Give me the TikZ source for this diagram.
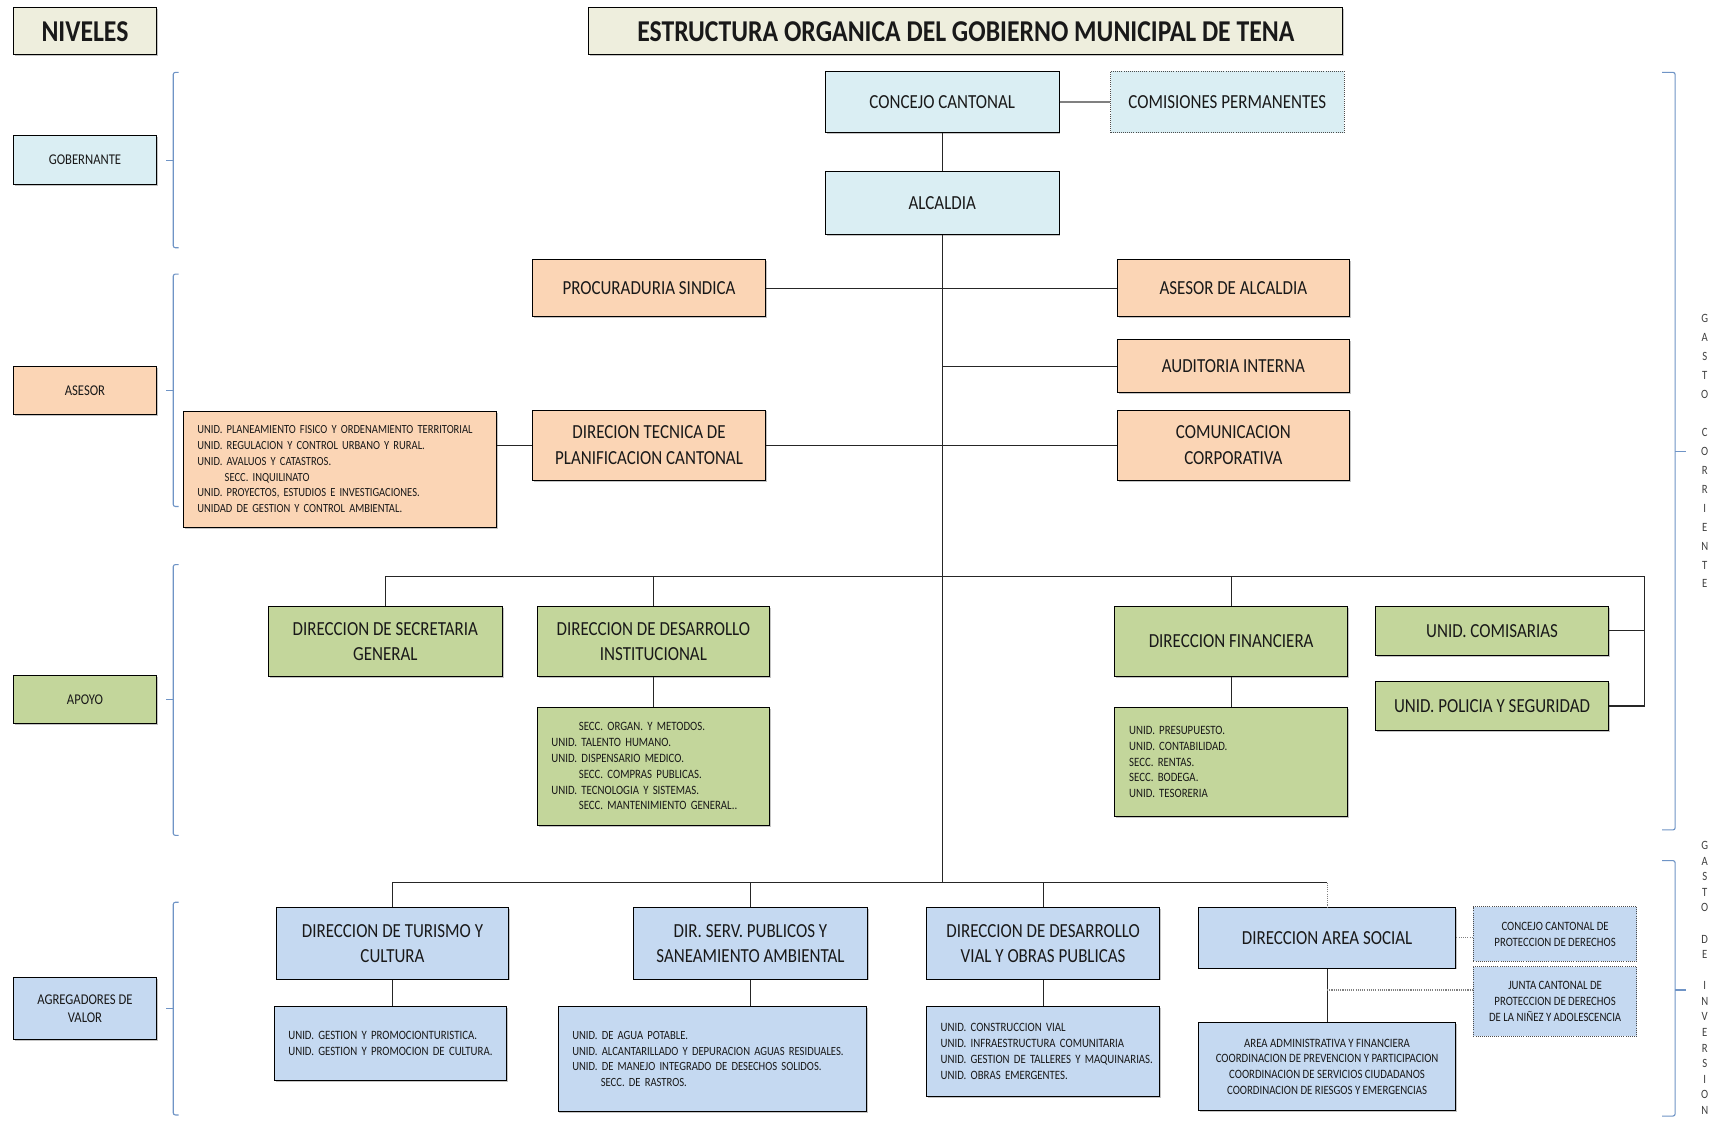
\documentclass[tikz,border=0pt]{standalone}
\usepackage{fontspec}
\setmainfont{Carlito}[FakeStretch=0.85]
\usetikzlibrary{shadows}
\definecolor{lblue}{HTML}{DAEEF3}
\definecolor{mblue}{HTML}{C5D9F1}
\definecolor{orng}{HTML}{FBD5B5}
\definecolor{grn}{HTML}{C3D69B}
\definecolor{beige}{HTML}{EEEEDD}
\definecolor{bracecol}{HTML}{6F94C6}
\newcommand\fs[2]{\fontsize{#1}{#2}\selectfont}
\newcommand\sline[1]{\mbox{#1}}
\newcommand\ind{\hspace*{25pt}}
\begin{document}
\begin{tikzpicture}[x=1pt,y=-1pt,
  every node/.style={inner sep=0pt},
  box/.style={draw=black, line width=0.9pt, align=center, text=black!90, font=\fs{18.2}{23},
    drop shadow={shadow xshift=1.3pt, shadow yshift=-1.3pt, opacity=0.45}},
  lvl/.style={box, font=\fs{13.6}{16}},
  sub/.style={box, font=\fs{11.6}{14.4}, align=left, inner xsep=13pt,
    execute at begin node={\frenchspacing\hyphenpenalty=10000\exhyphenpenalty=10000}},
  dotbox/.style={draw=black!70, densely dotted, line width=0.9pt, align=center, text=black!90},
  link/.style={draw=black!85, line width=1pt},
  brc/.style={draw=bracecol, line width=1pt, rounded corners=2pt},
  vtext/.style={text=black!75, align=center}
]
\useasboundingbox (0,0) rectangle (1568,1023);
\fill[white] (0,0) rectangle (1568,1023);

% headers
\node[box, fill=beige, minimum width=131pt, minimum height=43pt, font=\bfseries\fs{27.6}{30}] (niv) at (77.5,28.5) {NIVELES};
\node[box, fill=beige, minimum width=688pt, minimum height=43pt, font=\bfseries\fs{27.6}{30}] (title) at (881,28.5) {ESTRUCTURA ORGANICA DEL GOBIERNO MUNICIPAL DE TENA};

% levels
\node[lvl, fill=lblue, minimum width=131pt, minimum height=44pt] (gob) at (77.5,146) {GOBERNANTE};
\node[lvl, fill=orng, minimum width=131pt, minimum height=44pt] (ase) at (77.5,356) {ASESOR};
\node[lvl, fill=grn, minimum width=131pt, minimum height=44pt] (apo) at (77.5,638) {APOYO};
\node[lvl, fill=mblue, minimum width=131pt, minimum height=56pt] (agr) at (77.5,920) {AGREGADORES DE\\VALOR};

% left braces
\draw[brc] (163,66) -- (158,66) -- (158,226) -- (163,226);
\draw[brc] (158,146) -- (151,146);
\draw[brc] (163,250) -- (158,250) -- (158,462) -- (163,462);
\draw[brc] (158,356) -- (151,356);
\draw[brc] (163,515) -- (158,515) -- (158,762) -- (163,762);
\draw[brc] (158,638) -- (151,638);
\draw[brc] (163,823) -- (158,823) -- (158,1017) -- (163,1017);
\draw[brc] (158,920) -- (151,920);

% right braces
\draw[brc] (1516,66) -- (1528,66) -- (1528,757) -- (1516,757);
\draw[brc] (1528,412) -- (1538,412);
\draw[brc] (1516,785) -- (1528,785) -- (1528,1018) -- (1516,1018);
\draw[brc] (1528,903) -- (1538,903);
\node[vtext, font=\fs{11.5}{17.3}] (gc) at (1555,411.5) {G\\A\\S\\T\\O\\[17.3pt]C\\O\\R\\R\\I\\E\\N\\T\\E};
\node[vtext, font=\fs{11.5}{14.2}] (gi) at (1555,892) {G\\A\\S\\T\\O\\[14.2pt]D\\E\\[14.2pt]I\\N\\V\\E\\R\\S\\I\\O\\N};

% gobernante
\node[box, fill=lblue, minimum width=213pt, minimum height=56pt] (concejo) at (859.5,93) {CONCEJO CANTONAL};
\node[dotbox, fill=lblue, minimum width=213pt, minimum height=56pt, font=\fs{18.2}{23}] (comis) at (1119.5,93) {COMISIONES PERMANENTES};
\node[box, fill=lblue, minimum width=213pt, minimum height=58pt] (alc) at (859.5,185) {ALCALDIA};

% asesor
\node[box, fill=orng, minimum width=212pt, minimum height=52pt] (proc) at (592,263) {PROCURADURIA SINDICA};
\node[box, fill=orng, minimum width=212pt, minimum height=52pt] (asa) at (1125,263) {ASESOR DE ALCALDIA};
\node[box, fill=orng, minimum width=212pt, minimum height=48pt] (aud) at (1125,334) {AUDITORIA INTERNA};
\node[box, fill=orng, minimum width=212pt, minimum height=64pt] (dtp) at (592,406) {DIRECION TECNICA DE\\PLANIFICACION CANTONAL};
\node[box, fill=orng, minimum width=212pt, minimum height=64pt] (comc) at (1125,406) {COMUNICACION\\CORPORATIVA};
\node[sub, fill=orng, text width=260pt, minimum height=106pt, font=\fs{11.3}{14.4}] (plan) at (310,428) {\sline{UNID. PLANEAMIENTO FISICO Y ORDENAMIENTO TERRITORIAL}\\\sline{UNID. REGULACION Y CONTROL URBANO Y RURAL.}\\\sline{UNID. AVALUOS Y CATASTROS.}\\\ind\sline{SECC. INQUILINATO}\\\sline{UNID. PROYECTOS, ESTUDIOS E INVESTIGACIONES.}\\\sline{UNIDAD DE GESTION Y CONTROL AMBIENTAL.}};

% apoyo
\node[box, fill=grn, minimum width=213pt, minimum height=64pt] (sec) at (351.5,585) {DIRECCION DE SECRETARIA\\GENERAL};
\node[box, fill=grn, minimum width=212pt, minimum height=64pt] (dinst) at (596,585) {DIRECCION DE DESARROLLO\\INSTITUCIONAL};
\node[sub, fill=grn, text width=186pt, minimum height=108pt] (dinsts) at (596,699) {\ind\sline{SECC. ORGAN. Y METODOS.}\\\sline{UNID. TALENTO HUMANO.}\\\sline{UNID. DISPENSARIO MEDICO.}\\\ind\sline{SECC. COMPRAS PUBLICAS.}\\\sline{UNID. TECNOLOGIA Y SISTEMAS.}\\\ind\sline{SECC. MANTENIMIENTO GENERAL..}};
\node[box, fill=grn, minimum width=212pt, minimum height=64pt] (fin) at (1123,585) {DIRECCION FINANCIERA};
\node[sub, fill=grn, text width=186pt, minimum height=100pt] (fins) at (1123,695) {UNID. PRESUPUESTO.\\UNID. CONTABILIDAD.\\SECC. RENTAS.\\SECC. BODEGA.\\UNID. TESORERIA};
\node[box, fill=grn, minimum width=212pt, minimum height=45pt] (comi) at (1361,575.5) {UNID. COMISARIAS};
\node[box, fill=grn, minimum width=212pt, minimum height=44pt] (pol) at (1361,644) {UNID. POLICIA Y SEGURIDAD};

% agregadores de valor
\node[box, fill=mblue, minimum width=212pt, minimum height=65pt] (tur) at (358,860.5) {DIRECCION DE TURISMO Y\\CULTURA};
\node[sub, fill=mblue, text width=186pt, minimum height=68pt] (turs) at (356,952) {\sline{UNID. GESTION Y PROMOCIONTURISTICA.}\\\sline{UNID. GESTION Y PROMOCION DE CULTURA.}};
\node[box, fill=mblue, minimum width=213pt, minimum height=65pt] (serv) at (684.5,860.5) {DIR. SERV. PUBLICOS Y\\SANEAMIENTO AMBIENTAL};
\node[sub, fill=mblue, text width=255pt, minimum height=96pt, font=\fs{11.4}{14.4}] (servs) at (649.5,966) {\sline{UNID. DE AGUA POTABLE.}\\\sline{UNID. ALCANTARILLADO Y DEPURACION AGUAS RESIDUALES.}\\\sline{UNID. DE MANEJO INTEGRADO DE DESECHOS SOLIDOS.}\\\hspace*{26pt}\sline{SECC. DE RASTROS.}};
\node[box, fill=mblue, minimum width=213pt, minimum height=65pt] (vial) at (951.5,860.5) {DIRECCION DE DESARROLLO\\VIAL Y OBRAS PUBLICAS};
\node[sub, fill=mblue, text width=187pt, minimum height=82pt] (vials) at (951.5,959) {\sline{UNID. CONSTRUCCION VIAL}\\\sline{UNID. INFRAESTRUCTURA COMUNITARIA}\\\sline{UNID. GESTION DE TALLERES Y MAQUINARIAS.}\\\sline{UNID. OBRAS EMERGENTES.}};
\node[box, fill=mblue, minimum width=235pt, minimum height=55pt] (soc) at (1210.5,855.5) {DIRECCION AREA SOCIAL};
\node[box, fill=mblue, font=\fs{11.6}{14.4}, minimum width=235pt, minimum height=80pt] (socs) at (1210.5,973) {AREA ADMINISTRATIVA Y FINANCIERA\\COORDINACION DE PREVENCION Y PARTICIPACION\\COORDINACION DE SERVICIOS CIUDADANOS\\COORDINACION DE RIESGOS Y EMERGENCIAS};
\node[dotbox, fill=mblue, font=\fs{11.6}{14.4}, minimum width=149pt, minimum height=50pt] (ccpd) at (1418.5,852) {CONCEJO CANTONAL DE\\PROTECCION DE DERECHOS};
\node[dotbox, fill=mblue, font=\fs{11.6}{14.4}, minimum width=149pt, minimum height=63pt] (junta) at (1418.5,913.5) {JUNTA CANTONAL DE\\PROTECCION DE DERECHOS\\DE LA NIÑEZ Y ADOLESCENCIA};

% connectors
\coordinate (busR) at (1500,526);
\coordinate (trunkB) at (859.5,805);
\coordinate (jn) at (1210.5,903);
\draw[gray, line width=1.6pt] (concejo.east) -- (comis.west);
\draw[link] (concejo.south) -- (alc.north);
\draw[link] (alc.south) -- (trunkB);
\draw[link] (proc.east) -- (asa.west);
\draw[link] (alc.south |- aud.west) -- (aud.west);
\draw[link] (dtp.east) -- (comc.west);
\draw[link] (plan.east |- dtp.west) -- (dtp.west);
\draw[link] (sec.north) |- (busR) |- (pol.east);
\draw[link] (comi.east) -- (comi.east -| busR);
\draw[link] (dinst.north) -- (dinst.north |- busR);
\draw[link] (fin.north) -- (fin.north |- busR);
\draw[link] (dinst.south) -- (dinsts.north);
\draw[link] (fin.south) -- (fins.north);
\draw[link] (tur.north) |- (soc.north |- trunkB);
\draw[link] (serv.north) -- (serv.north |- trunkB);
\draw[link] (vial.north) -- (vial.north |- trunkB);
\draw[gray, line width=1pt, densely dotted] (soc.north |- trunkB) -- (soc.north);
\draw[link] (tur.south) -- (tur.south |- turs.north);
\draw[link] (serv.south) -- (serv.south |- servs.north);
\draw[link] (vial.south) -- (vials.north);
\draw[link] (soc.south) -- (socs.north);
\draw[gray, line width=1pt, densely dotted] (soc.east) -- (soc.east -| ccpd.west);
\draw[gray, line width=1pt, densely dotted] (jn) -- (jn -| junta.west);
\end{tikzpicture}
\end{document}
